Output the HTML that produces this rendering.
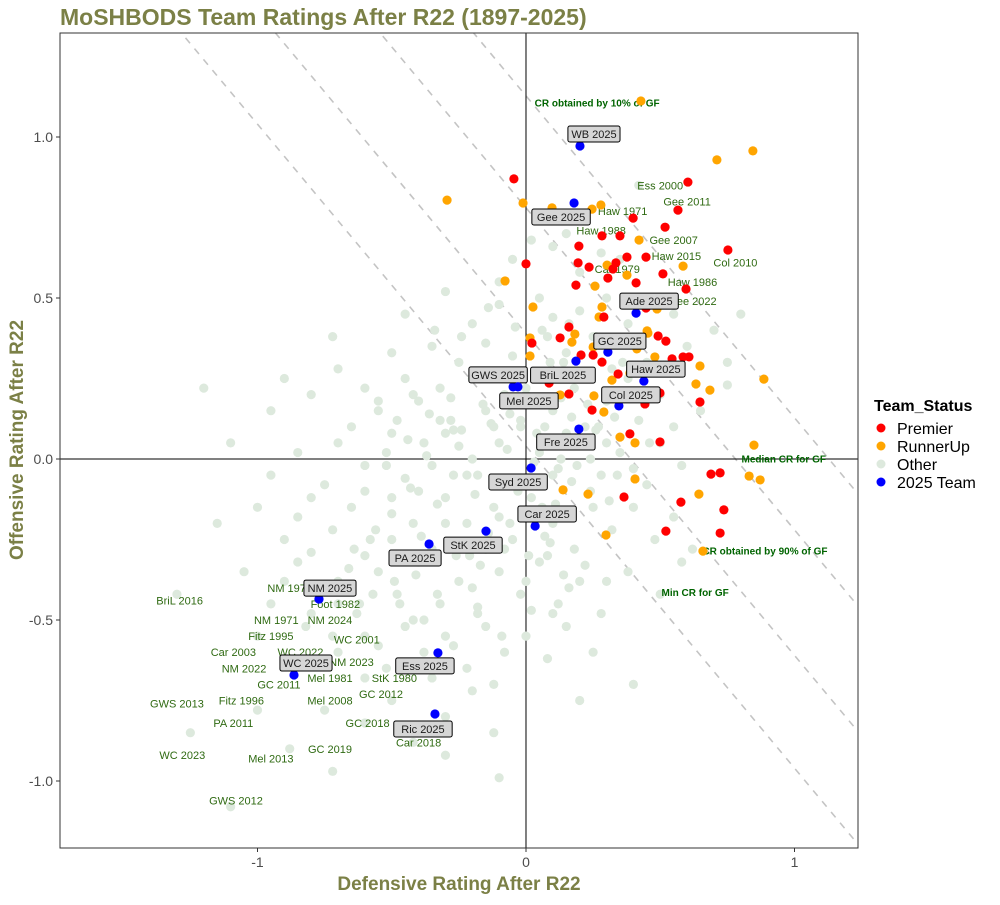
<!DOCTYPE html>
<html><head><meta charset="utf-8"><style>
body{margin:0;background:#fff;font-family:"Liberation Sans",Arial,sans-serif}
svg text{font-family:"Liberation Sans",Arial,sans-serif}
</style></head><body>
<svg id="chart" width="1000" height="900" xmlns="http://www.w3.org/2000/svg">
<rect x="0" y="0" width="1000" height="900" fill="#fff"/>
<text x="60" y="25" font-size="23" font-weight="bold" fill="#7b8046">MoSHBODS Team Ratings After R22 (1897-2025)</text>
<g id="panel"></g>
<text x="459" y="890" text-anchor="middle" font-size="19" font-weight="bold" fill="#7b8046">Defensive Rating After R22</text>
<text transform="translate(23,440) rotate(-90)" text-anchor="middle" font-size="19" font-weight="bold" fill="#7b8046">Offensive Rating After R22</text>
<g>
<text x="874" y="411" font-size="16" font-weight="bold" fill="#000">Team_Status</text>
<g><circle cx="881" cy="428" r="4.5" fill="#ff0000"/><text x="897" y="434" font-size="16">Premier</text></g>
<g><circle cx="881" cy="446" r="4.5" fill="#ffa500"/><text x="897" y="452" font-size="16">RunnerUp</text></g>
<g><circle cx="881" cy="464" r="4.5" fill="#dde9dd"/><text x="897" y="470" font-size="16">Other</text></g>
<g><circle cx="881" cy="482" r="4.5" fill="#0000ff"/><text x="897" y="488" font-size="16">2025 Team</text></g>
</g>
</svg>
<script>
const xTicks=[-1,0,1];
const yTicks=[-1.0,-0.5,0.0,0.5,1.0];
const crLines=[0.04,0.39,0.78,1.128];
const otherX=[0.42,0.02,0.1,0.15,0.28,-0.05,0.2,-0.1,0.35,-0.72,-0.45,-0.3,-0.2,-0.1,0.05,0.1,0.2,0.3,0.38,0.55,0.7,-0.5,-0.35,-0.25,-0.15,-0.05,0.08,0.15,0.25,0.45,0.6,0.75,0.8,-1.2,-0.9,-0.95,-0.8,-0.7,-0.6,-0.55,-0.45,-0.4,-0.32,-0.28,-0.2,-0.15,-0.08,-0.02,0.05,0.1,0.18,0.22,0.3,0.38,0.42,0.5,0.55,0.65,0.75,-0.65,-0.5,-0.38,0.3,-1.1,-0.95,-0.85,-0.75,-0.7,-0.6,-0.52,-0.45,-0.35,-0.25,-0.18,-0.1,-0.05,0.05,0.12,0.2,0.28,0.35,0.45,0.5,0.58,-0.3,0.15,0.4,-1.15,-1.0,-0.9,-0.8,-0.72,-0.65,-0.58,-0.5,-0.42,-0.35,-0.3,-0.22,-0.12,-0.05,0.02,0.1,0.18,0.25,0.32,0.4,0.48,0.55,0.62,-0.15,0.08,-1.05,-0.95,-0.85,-0.8,-0.7,-0.62,-0.55,-0.48,-0.4,-0.32,-0.25,-0.18,-0.1,-0.02,0.05,0.12,0.2,0.28,0.38,0.5,0.58,-1.3,-0.9,-1.0,-0.9,-0.82,-0.7,-0.6,-0.52,-0.45,-0.38,-0.3,-0.22,-0.15,-0.08,0.0,0.08,0.15,0.25,0.4,-0.6,-0.35,-0.12,-1.25,-1.0,-0.88,-0.75,-0.6,-0.5,-0.42,-0.3,-0.2,-0.12,-0.1,-1.1,-0.72,-0.3,0.2,-0.02,0.06,0.14,-0.12,-0.22,0.24,0.32,-0.4,-0.6,-0.85,-0.32,0.0,0.1,-0.2,-0.5,-0.7,
-0.55,-0.48,-0.42,-0.36,-0.28,-0.24,-0.16,-0.12,-0.06,0.0,0.04,0.09,0.13,0.17,0.23,0.27,0.33,0.37,-0.52,-0.44,-0.37,-0.27,-0.2,-0.13,-0.07,0.03,0.07,0.13,0.19,0.26,0.34,-0.6,-0.5,-0.43,-0.33,-0.27,-0.19,-0.1,-0.03,0.04,0.11,0.17,0.24,0.31,-0.64,-0.56,-0.47,-0.39,-0.3,-0.21,-0.14,-0.06,0.01,0.07,0.14,0.22,0.3,-0.75,-0.66,-0.57,-0.49,-0.41,-0.33,-0.26,-0.17,-0.08,0.0,0.09,0.16,-0.8,-0.72,-0.63,-0.55,-0.47,-0.38,-0.27,-0.18,-0.09,0.02,0.1,-0.42,-0.34,-0.24,-0.14,-0.04,0.06,0.16,0.26,0.36,0.46];
const otherY=[0.85,0.68,0.66,0.7,0.64,0.62,0.58,0.55,0.62,0.38,0.45,0.52,0.42,0.48,0.5,0.44,0.46,0.5,0.42,0.45,0.4,0.33,0.35,0.3,0.36,0.32,0.38,0.33,0.38,0.3,0.35,0.3,0.45,0.22,0.25,0.15,0.2,0.28,0.22,0.15,0.25,0.18,0.22,0.12,0.25,0.15,0.2,0.12,0.25,0.15,0.22,0.1,0.18,0.25,0.12,0.2,0.1,0.15,0.23,0.1,0.08,0.05,0.05,0.05,-0.05,0.02,-0.08,0.05,-0.02,0.02,-0.06,-0.02,0.04,-0.05,0.05,-0.08,0.02,-0.03,0.06,-0.05,0.02,-0.08,0.05,-0.02,0.08,0.08,-0.03,-0.2,-0.15,-0.25,-0.12,-0.22,-0.15,-0.25,-0.12,-0.2,-0.28,-0.12,-0.2,-0.15,-0.25,-0.12,-0.2,-0.28,-0.15,-0.22,-0.15,-0.25,-0.18,-0.28,-0.28,-0.3,-0.35,-0.45,-0.32,-0.48,-0.38,-0.45,-0.35,-0.42,-0.32,-0.45,-0.38,-0.48,-0.35,-0.42,-0.32,-0.45,-0.38,-0.48,-0.35,-0.42,-0.32,-0.42,-0.38,-0.55,-0.62,-0.52,-0.6,-0.55,-0.65,-0.52,-0.6,-0.55,-0.65,-0.52,-0.6,-0.55,-0.62,-0.52,-0.6,-0.7,-0.68,-0.68,-0.7,-0.85,-0.78,-0.9,-0.78,-0.82,-0.75,-0.88,-0.8,-0.72,-0.85,-0.99,-1.08,-0.97,-0.92,-0.75,0.1,-0.15,0.3,0.1,-0.05,0.0,0.28,-0.1,-0.3,-0.18,0.12,0.22,-0.05,-0.4,-0.25,-0.45,
0.18,0.12,0.2,0.14,0.19,0.09,0.17,0.27,0.14,0.2,0.08,0.3,0.19,0.13,0.17,0.1,0.13,0.19,-0.02,0.06,0.01,0.09,0.0,0.11,0.03,-0.01,0.1,0.0,-0.02,0.09,-0.05,-0.1,-0.17,-0.09,-0.14,-0.05,-0.11,-0.18,-0.1,-0.06,-0.14,-0.07,-0.1,-0.13,-0.28,-0.22,-0.3,-0.24,-0.2,-0.3,-0.23,-0.2,-0.3,-0.24,-0.36,-0.33,-0.38,-0.4,-0.34,-0.42,-0.38,-0.36,-0.42,-0.3,-0.33,-0.28,-0.38,-0.26,-0.4,-0.29,-0.55,-0.48,-0.58,-0.45,-0.5,-0.58,-0.46,-0.55,-0.47,-0.48,-0.5,0.4,0.38,0.47,0.41,0.4,0.42,0.38,0.3,0.05,-0.12];
const premierX=[-0.045,0.603,0.566,0.399,0.518,0.283,0.350,0.197,0.752,0.000,0.194,0.235,0.335,0.376,0.447,0.324,0.305,0.510,0.186,0.410,0.596,0.290,0.447,0.160,0.127,0.022,0.492,0.521,0.205,0.250,0.283,0.544,0.585,0.607,0.343,0.086,0.160,0.499,0.648,0.443,0.246,0.387,0.499,0.689,0.723,0.365,0.577,0.737,0.521,0.723];
const premierY=[0.870,0.860,0.773,0.748,0.720,0.693,0.693,0.661,0.649,0.606,0.609,0.596,0.609,0.627,0.627,0.590,0.562,0.575,0.540,0.547,0.528,0.441,0.469,0.410,0.376,0.360,0.382,0.366,0.323,0.323,0.301,0.311,0.317,0.317,0.264,0.236,0.202,0.205,0.177,0.171,0.152,0.078,0.053,-0.047,-0.043,-0.118,-0.134,-0.158,-0.224,-0.230];
const runnerX=[0.428,0.845,0.711,-0.294,-0.011,0.097,0.246,0.279,0.421,0.302,0.376,0.585,-0.078,0.257,0.026,0.283,0.272,0.488,0.451,0.182,0.015,0.171,0.454,0.250,0.413,0.015,0.480,0.648,0.387,0.320,0.633,0.685,0.886,0.127,0.253,0.290,0.350,0.406,0.849,0.831,0.872,0.406,0.138,0.231,0.644,0.298,0.659];
const runnerY=[1.112,0.957,0.929,0.804,0.795,0.780,0.776,0.789,0.680,0.602,0.571,0.599,0.553,0.537,0.472,0.472,0.441,0.466,0.398,0.388,0.376,0.363,0.391,0.348,0.342,0.320,0.317,0.289,0.267,0.245,0.233,0.214,0.248,0.199,0.196,0.146,0.068,0.050,0.043,-0.053,-0.065,-0.062,-0.096,-0.109,-0.109,-0.236,-0.286];
const teams=["WB 2025","Gee 2025","Ade 2025","GC 2025","Haw 2025","BriL 2025","GWS 2025","Mel 2025","Col 2025","Fre 2025","Syd 2025","Car 2025","StK 2025","PA 2025","NM 2025","WC 2025","Ess 2025","Ric 2025"];
const teamX=[0.201,0.179,0.410,0.305,0.439,0.186,-0.048,-0.030,0.346,0.197,0.019,0.034,-0.149,-0.361,-0.771,-0.864,-0.328,-0.339];
const teamY=[0.972,0.795,0.453,0.332,0.242,0.304,0.224,0.224,0.165,0.093,-0.028,-0.208,-0.224,-0.264,-0.435,-0.671,-0.602,-0.792];
const histLabels=["BriL 2016","NM 1975","Foot 1982","NM 1971","NM 2024","Fitz 1995","WC 2001","Car 2003","WC 2022","NM 2022","NM 2023","Mel 1981","StK 1980","GC 2011","GC 2012","GWS 2013","Fitz 1996","Mel 2008","PA 2011","GC 2018","Car 2018","GC 2019","WC 2023","Mel 2013","GWS 2012","Ess 2000","Haw 1971","Gee 2011","Haw 1988","Gee 2007","Haw 2015","Col 2010","Car 1979","Haw 1986","Gee 2022"];
const histX=[-1.29,-0.88,-0.71,-0.93,-0.73,-0.95,-0.63,-1.09,-0.84,-1.05,-0.65,-0.73,-0.49,-0.92,-0.54,-1.30,-1.06,-0.73,-1.09,-0.59,-0.40,-0.73,-1.28,-0.95,-1.08,0.50,0.36,0.60,0.28,0.55,0.56,0.78,0.34,0.62,0.62];
const histY=[-0.44,-0.40,-0.45,-0.50,-0.50,-0.55,-0.56,-0.60,-0.60,-0.65,-0.63,-0.68,-0.68,-0.70,-0.73,-0.76,-0.75,-0.75,-0.82,-0.82,-0.88,-0.90,-0.92,-0.93,-1.06,0.85,0.77,0.80,0.71,0.68,0.63,0.61,0.59,0.55,0.49];
const annoText=["CR obtained by 10% of GF","Median CR for GF","CR obtained by 90% of GF","Min CR for GF"];
const annoX=[0.265,0.96,0.89,0.63];
const annoY=[1.105,0.0,-0.285,-0.415];

const NS="http://www.w3.org/2000/svg";
const L=60,R=858,T=33,B=848;
const xMin=-1.7355,xMax=1.2365,yMin=-1.2081,yMax=1.3230;
const sx=v=>L+(v-xMin)/(xMax-xMin)*(R-L);
const sy=v=>B-(v-yMin)/(yMax-yMin)*(B-T);
const panel=document.getElementById('panel');
function mk(tag,attrs,parent){const e=document.createElementNS(NS,tag);for(const k in attrs)e.setAttribute(k,attrs[k]);(parent||panel).appendChild(e);return e;}
const clip=mk('clipPath',{id:'pc'});mk('rect',{x:L,y:T,width:R-L,height:B-T},clip);
const bg=mk('rect',{x:L,y:T,width:R-L,height:B-T,fill:'#fff'});


const g=mk('g',{'clip-path':'url(#pc)'});
crLines.forEach(c=>{
  const ln=mk('line',{x1:sx(xMin),y1:sy(c-xMin),x2:sx(xMax),y2:sy(c-xMax),stroke:'#c4c4c4','stroke-width':1.6,'stroke-dasharray':'7,7'},g);
  
  
});
const vx=mk('line',{x1:sx(0),y1:T,x2:sx(0),y2:B,stroke:'#000','stroke-width':1},g);


const hy=mk('line',{x1:L,y1:sy(0),x2:R,y2:sy(0),stroke:'#000','stroke-width':1},g);


otherX.forEach((v,i)=>{const c=mk('circle',{cx:sx(v),cy:sy(otherY[i]),r:4.6,fill:'#dde9dd'},g);
  
  });
histLabels.forEach((t,i)=>{const e=mk('text',{x:sx(histX[i]),y:sy(histY[i])+4,'text-anchor':'middle','font-size':11,fill:'#2f6a12'},g);e.textContent=t;
  
  });
annoText.forEach((t,i)=>{const e=mk('text',{x:sx(annoX[i]),y:sy(annoY[i])+3.5,'text-anchor':'middle','font-size':10,'font-weight':'bold',fill:'#006400'},g);e.textContent=t;
  
  });
runnerX.forEach((v,i)=>{const c=mk('circle',{cx:sx(v),cy:sy(runnerY[i]),r:4.6,fill:'#ffa500'},g);
  
  });
premierX.forEach((v,i)=>{const c=mk('circle',{cx:sx(v),cy:sy(premierY[i]),r:4.6,fill:'#ff0000'},g);
  
  });
const offs=[[14,-12],[-13,14],[13,-12],[12,-11],[12,-12],[-13,14],[-15,-12],[11,14],[12,-11],[-13,13],[-13,14],[12,-12],[-13,14],[-14,14],[11,-11],[12,-12],[-13,13],[-12,15]];
teams.forEach((t,i)=>{const px=sx(teamX[i]),py=sy(teamY[i]);
  const c=mk('circle',{cx:px,cy:py,r:4.6,fill:'#0000ff'},g);
  
  
  const cx=px+offs[i][0],cy=py+offs[i][1];const w=t.length*6.3+8;
  const lg=mk('g',{},g);
  
  
  mk('rect',{x:cx-w/2,y:cy-8,width:w,height:16,rx:2,fill:'#d6d6d6',stroke:'#000','stroke-width':1},lg);
  const tx=mk('text',{x:cx,y:cy+4,'text-anchor':'middle','font-size':11,fill:'#1a1a1a'},lg);tx.textContent=t;});
const border=mk('rect',{x:L,y:T,width:R-L,height:B-T,fill:'none',stroke:'#333','stroke-width':1});


xTicks.forEach(v=>{mk('line',{x1:sx(v),y1:B,x2:sx(v),y2:B+4,stroke:'#333'});
  const t=mk('text',{x:sx(v),y:B+19,'text-anchor':'middle','font-size':14,fill:'#4d4d4d'});t.textContent=String(v);
  
  });
yTicks.forEach(v=>{mk('line',{x1:L-4,y1:sy(v),x2:L,y2:sy(v),stroke:'#333'});
  const t=mk('text',{x:L-7,y:sy(v)+5,'text-anchor':'end','font-size':14,fill:'#4d4d4d'});t.textContent=v.toFixed(1);
  
  });
</script>
</body></html>
